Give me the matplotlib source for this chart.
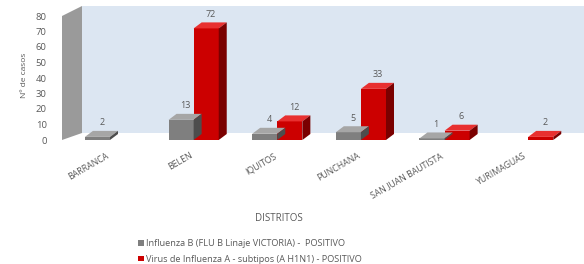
import numpy as np
import matplotlib
matplotlib.use('Agg')
import matplotlib.pyplot as plt
from matplotlib.patches import Polygon

distritos = ['BARRANCA', 'BELEN', 'IQUITOS', 'PUNCHANA', 'SAN JUAN BAUTISTA', 'YURIMAGUAS']
flu_b = [2, 13, 4, 5, 1, 0]
flu_a = [0, 72, 12, 33, 6, 2]
lab_b = 'Influenza B (FLU B Linaje VICTORIA) -  POSITIVO'
lab_a = 'Virus de Influenza A - subtipos (A H1N1) - POSITIVO'

plt.rcParams['font.family'] = ['Open Sans', 'DejaVu Sans']
txt = '#595959'

W, H = 584, 264
fig = plt.figure(figsize=(W / 100, H / 100), dpi=100)
# front plane of the 3d chart, pixel coords from image
x0, x1, ytop, ybot = 62, 575, 16, 140
ax = fig.add_axes([x0 / W, 1 - ybot / H, (x1 - x0) / W, (ybot - ytop) / H])
ax.set_facecolor('none')
for s in ax.spines.values():
    s.set_visible(False)

x = np.arange(len(distritos))
w = 0.3
ax.set_xlim(-0.574, 5.56)
ax.set_ylim(0, 80)
ax.set_yticks(np.arange(0, 81, 10))
ax.tick_params(axis='y', length=0, labelsize=6.8, labelcolor=txt, pad=11)
ax.tick_params(axis='x', length=0, pad=8)
ax.set_xticks(x - 0.05)
ax.set_xticklabels(distritos, rotation=30, ha='right', rotation_mode='anchor',
                   fontsize=6.3, color=txt)
ax.set_ylabel('Nº de casos', fontsize=6, color=txt)
ax.yaxis.set_label_coords(-34 / (x1 - x0), 0.52)
ax.set_xlabel('DISTRITOS', fontsize=7, color=txt)
ax.xaxis.set_label_coords((279 - x0) / (x1 - x0), -(213 - ybot) / (ybot - ytop))

# walls (pixel coords, display origin bottom-left)
def px(pts):
    return [(a, H - b) for a, b in pts]

fig.add_artist(Polygon(px([(82, 6), (584, 6), (584, 133), (82, 133)]), closed=True,
                       transform=None, facecolor='#dce6f2', edgecolor='none', zorder=0))
fig.add_artist(Polygon(px([(62, 16), (82, 6), (82, 133), (62, 140)]), closed=True,
                       transform=None, facecolor='#9a9a9a', edgecolor='none', zorder=0.5))

cols = {
    'b': ('#7f7f7f', '#a6a6a6', '#4d4d4d'),
    'a': ('#cc0000', '#e83030', '#7a0000'),
}
dx, dy = 8, 6

bb = ax.bar(x - w / 2, flu_b, w, color=cols['b'][0], zorder=3, label=lab_b)
ba = ax.bar(x + w / 2, flu_a, w, color=cols['a'][0], zorder=3, label=lab_a)

fig.canvas.draw()
T = ax.transData
for bars, vals, key in [(bb, flu_b, 'b'), (ba, flu_a, 'a')]:
    front, top, side = cols[key]
    for r, v in zip(bars, vals):
        if v == 0:
            continue
        xl, xr = r.get_x(), r.get_x() + r.get_width()
        (pl, pb), (pr, pt) = T.transform([(xl, 0), (xr, v)])
        fig.add_artist(Polygon([(pl, pt), (pr, pt), (pr + dx, pt + dy), (pl + dx, pt + dy)],
                               closed=True, transform=None, facecolor=top,
                               edgecolor='none', zorder=2))
        fig.add_artist(Polygon([(pr, pb), (pr + dx, pb + dy), (pr + dx, pt + dy), (pr, pt)],
                               closed=True, transform=None, facecolor=side,
                               edgecolor='none', zorder=2))
        ax.annotate(str(v), (r.get_x() + r.get_width() / 2, v), xytext=(3, 7),
                    textcoords='offset points', ha='center', va='bottom',
                    fontsize=6.5, color=txt, zorder=5)

leg = fig.legend(loc='upper left', bbox_to_anchor=(130 / W, 1 - 231 / H),
                 frameon=False, fontsize=6.6, labelcolor=txt, handlelength=0.6,
                 handleheight=0.5, handletextpad=0.3, labelspacing=0.75)

fig.savefig('out.png', dpi=100)
